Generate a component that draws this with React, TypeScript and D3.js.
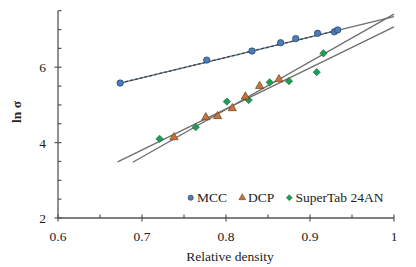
import React from "react";
import * as d3 from "d3";

const mccX = [0.674, 0.777, 0.831, 0.865, 0.883, 0.909, 0.929, 0.933];
const mccY = [5.58, 6.19, 6.43, 6.65, 6.76, 6.9, 6.94, 6.99];
const dcpX = [0.738, 0.776, 0.79, 0.8075, 0.823, 0.84, 0.863];
const dcpY = [4.14, 4.67, 4.7, 4.91, 5.22, 5.5, 5.68];
const stX = [0.721, 0.764, 0.801, 0.827, 0.852, 0.875, 0.908, 0.916];
const stY = [4.1, 4.41, 5.09, 5.13, 5.6, 5.63, 5.87, 6.37];

const mccTrendX = [0.674, 1.0];
const mccTrendY = [5.58, 7.34];
const dcpTrendX = [0.689, 1.0];
const dcpTrendY = [3.48, 7.41];
const stTrendX = [0.671, 1.0];
const stTrendY = [3.49, 7.07];

const xTicks = [0.6, 0.7, 0.8, 0.9, 1];
const xMinor = [0.65, 0.75, 0.85, 0.95];
const yTicks = [2, 4, 6];
const yMinor = [2.5, 3, 3.5, 4.5, 5, 5.5, 6.5, 7, 7.5];

const seriesNames = ["MCC", "DCP", "SuperTab 24AN"];

export default function App() {
  const x = d3.scaleLinear().domain([0.6, 1]).range([58, 394]);
  const y = d3.scaleLinear().domain([2, 7.5]).range([218, 10.7]);
  const fs = { fontFamily: '"Liberation Serif", "Times New Roman", Times, serif' };
  const line = d3
    .line<[number, number]>()
    .x((d) => x(d[0]))
    .y((d) => y(d[1]));
  const zip = (a: number[], b: number[]) => a.map((v, i) => [v, b[i]] as [number, number]);
  const tri = d3.symbol().type(d3.symbolTriangle).size(30)();
  const dia = d3.symbol().type(d3.symbolDiamond2).size(34)();
  const triL = d3.symbol().type(d3.symbolTriangle).size(20)();
  const diaL = d3.symbol().type(d3.symbolDiamond2).size(22)();
  const blue = "#4a7dba";
  const orange = "#c8733a";
  const green = "#1e9e52";
  const lineCol = "#6e6e6e";
  const axisCol = "#555";
  const textCol = "#222";
  const mccEndY =
    mccTrendY[0] +
    (mccTrendY[1] - mccTrendY[0]) * ((mccX[mccX.length - 1] - mccTrendX[0]) / (mccTrendX[1] - mccTrendX[0]));

  return (
    <svg width={416} height={267} style={{ position: "absolute", left: 0, top: 0, background: "#fff" }}>
      {/* axes */}
      <line x1={x(0.6)} x2={x(1)} y1={y(2)} y2={y(2)} stroke={axisCol} strokeWidth={1.3} />
      <line x1={x(0.6)} x2={x(0.6)} y1={y(2)} y2={y(7.5)} stroke={axisCol} strokeWidth={1.3} />
      {xTicks.map((t) => (
        <g key={"xt" + t}>
          <line x1={x(t)} x2={x(t)} y1={y(2) - 3.5} y2={y(2) + 3.5} stroke={axisCol} strokeWidth={1.2} />
          <text x={x(t)} y={241} textAnchor="middle" fontSize={13.5} fill={textCol} style={fs}>
            {String(t)}
          </text>
        </g>
      ))}
      {xMinor.map((t) => (
        <line key={"xm" + t} x1={x(t)} x2={x(t)} y1={y(2) - 3.5} y2={y(2)} stroke={axisCol} strokeWidth={1.2} />
      ))}
      {yTicks.map((t) => (
        <g key={"yt" + t}>
          <line x1={x(0.6) - 3.5} x2={x(0.6) + 3.5} y1={y(t)} y2={y(t)} stroke={axisCol} strokeWidth={1.2} />
          <text x={46} y={y(t) + 5} textAnchor="end" fontSize={13.5} fill={textCol} style={fs}>
            {String(t)}
          </text>
        </g>
      ))}
      {yMinor.map((t) => (
        <line key={"ym" + t} x1={x(0.6)} x2={x(0.6) + 3.5} y1={y(t)} y2={y(t)} stroke={axisCol} strokeWidth={1.2} />
      ))}
      <text x={230} y={261} textAnchor="middle" fontSize={13.5} fill={textCol} style={fs}>
        Relative density
      </text>
      <text
        transform="translate(21,112) rotate(-90)"
        textAnchor="middle"
        fontSize={13.5}
        fontWeight="bold"
        fill={textCol}
        style={fs}
      >
        ln σ
      </text>

      {/* trend lines */}
      <path d={line(zip(mccTrendX, mccTrendY)) || ""} fill="none" stroke={lineCol} strokeWidth={1.3} />
      <path d={line(zip(dcpTrendX, dcpTrendY)) || ""} fill="none" stroke={lineCol} strokeWidth={1.3} />
      <path d={line(zip(stTrendX, stTrendY)) || ""} fill="none" stroke={lineCol} strokeWidth={1.3} />
      <path
        d={line(zip([mccX[0], mccX[mccX.length - 1]], [mccY[0], mccEndY])) || ""}
        fill="none"
        stroke="#2e4a66"
        strokeWidth={1.3}
        strokeDasharray="3,2"
      />

      {/* points */}
      {zip(stX, stY).map((d, i) => (
        <path key={"s" + i} d={dia || ""} transform={`translate(${x(d[0])},${y(d[1])})`} fill={green} stroke="#145e33" strokeWidth={0.6} />
      ))}
      {zip(dcpX, dcpY).map((d, i) => (
        <path key={"d" + i} d={tri || ""} transform={`translate(${x(d[0])},${y(d[1])})`} fill={orange} stroke="#5a3318" strokeWidth={0.6} />
      ))}
      {zip(mccX, mccY).map((d, i) => (
        <circle key={"m" + i} cx={x(d[0])} cy={y(d[1])} r={3.2} fill={blue} stroke="#243d5c" strokeWidth={0.7} />
      ))}

      {/* legend */}
      <circle cx={190.7} cy={197.7} r={2.6} fill={blue} stroke="#243d5c" strokeWidth={0.6} />
      <text x={197} y={202.3} fontSize={13.5} fill={textCol} style={fs}>{seriesNames[0]}</text>
      <path d={triL || ""} transform="translate(242.3,197.7)" fill={orange} stroke="#5a3318" strokeWidth={0.5} />
      <text x={248} y={202.3} fontSize={13.5} fill={textCol} style={fs}>{seriesNames[1]}</text>
      <path d={diaL || ""} transform="translate(289.3,197.7)" fill={green} stroke="#145e33" strokeWidth={0.5} />
      <text x={295.5} y={202.3} fontSize={13.5} fill={textCol} style={fs}>{seriesNames[2]}</text>
    </svg>
  );
}
